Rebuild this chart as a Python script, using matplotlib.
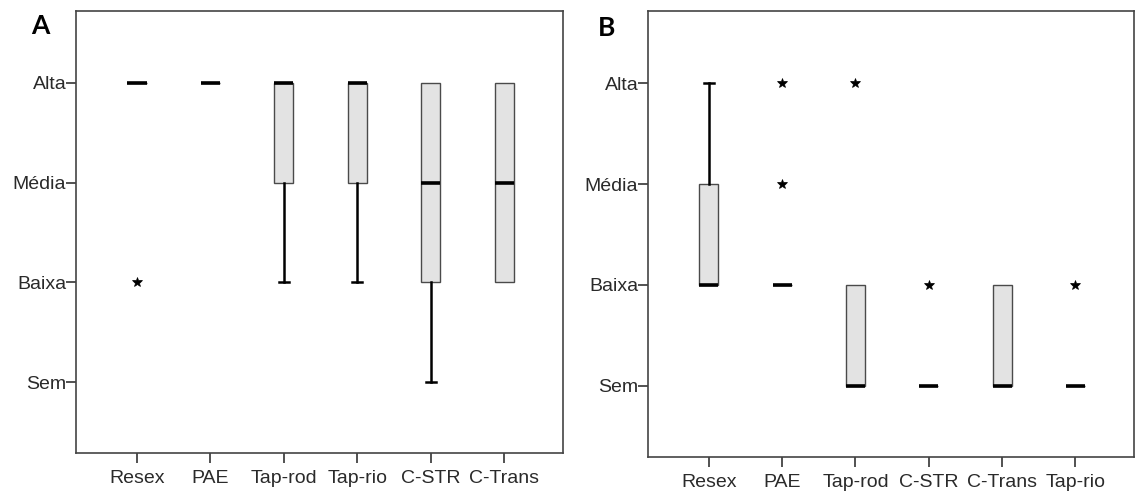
import matplotlib
matplotlib.use("Agg")
import matplotlib.pyplot as plt

plt.rcParams['font.family'] = ['Liberation Sans', 'DejaVu Sans']

# Ordinal scale used on the y axis
levels = ['Sem', 'Baixa', 'Média', 'Alta']
level_values = [1, 2, 3, 4]

# Panel A
a_cats = ['Resex', 'PAE', 'Tap-rod', 'Tap-rio', 'C-STR', 'C-Trans']
a_q1 = [4, 4, 3, 3, 2, 2]
a_med = [4, 4, 4, 4, 3, 3]
a_q3 = [4, 4, 4, 4, 4, 4]
a_whislo = [4, 4, 2, 2, 1, 2]
a_whishi = [4, 4, 4, 4, 4, 4]
a_fliers = [[2], [], [], [], [], []]

# Panel B
b_cats = ['Resex', 'PAE', 'Tap-rod', 'C-STR', 'C-Trans', 'Tap-rio']
b_q1 = [2, 2, 1, 1, 1, 1]
b_med = [2, 2, 1, 1, 1, 1]
b_q3 = [3, 2, 2, 1, 2, 1]
b_whislo = [2, 2, 1, 1, 1, 1]
b_whishi = [4, 2, 2, 1, 2, 1]
b_fliers = [[], [3, 4], [4], [2], [], [2]]

W, H, DPI = 1135, 491, 100
fig = plt.figure(figsize=(W / DPI, H / DPI), dpi=DPI)
fig.patch.set_facecolor('white')


def px_axes(left, top, right, bottom):
    return fig.add_axes([left / W, 1 - bottom / H, (right - left) / W, (bottom - top) / H])


def draw_panel(ax, cats, q1, med, q3, wlo, whi, fliers):
    stats = []
    for c, a, m, b, lo, hi, fl in zip(cats, q1, med, q3, wlo, whi, fliers):
        stats.append(dict(label=c, q1=a, med=m, q3=b, whislo=lo, whishi=hi, fliers=fl))
    pos = list(range(1, len(cats) + 1))
    res = ax.bxp(
        stats, positions=pos, widths=0.26, capwidths=0.14, patch_artist=True,
        boxprops=dict(facecolor='#e3e3e3', edgecolor='#4a4a4a', linewidth=1.0),
        medianprops=dict(color='black', linewidth=2.6, solid_capstyle='butt'),
        whiskerprops=dict(color='black', linewidth=1.8),
        capprops=dict(color='black', linewidth=1.8),
        flierprops=dict(marker='*', markersize=7, markerfacecolor='black',
                        markeredgecolor='black', markeredgewidth=0.5, linestyle='none'),
    )
    # hide whiskers and caps that have zero length
    for i, s in enumerate(stats):
        if s['whislo'] == s['q1']:
            res['caps'][2 * i].set_visible(False)
            res['whiskers'][2 * i].set_visible(False)
        if s['whishi'] == s['q3']:
            res['caps'][2 * i + 1].set_visible(False)
            res['whiskers'][2 * i + 1].set_visible(False)
    ax.set_xlim(1 - 0.83, len(cats) + 0.80)
    ax.set_ylim(0.29, 4.72)
    ax.set_yticks(level_values)
    ax.set_yticklabels(levels)
    ax.set_xticks(pos)
    ax.set_xticklabels(cats)
    ax.tick_params(axis='both', direction='out', length=7, width=1.2, color='#333333',
                   labelsize=14, labelcolor='#2a2a2a')
    ax.tick_params(axis='y', pad=0)
    ax.tick_params(axis='x', pad=5)
    for sp in ax.spines.values():
        sp.set_color('#444444')
        sp.set_linewidth(1.2)


ax_a = px_axes(76, 11, 563, 453)
draw_panel(ax_a, a_cats, a_q1, a_med, a_q3, a_whislo, a_whishi, a_fliers)

ax_b = px_axes(648, 11, 1134, 457)
draw_panel(ax_b, b_cats, b_q1, b_med, b_q3, b_whislo, b_whishi, b_fliers)

fig.text(40 / W, 1 - 26 / H, 'A', fontsize=19, fontweight='bold', family=['Lato', 'DejaVu Sans'],
         ha='center', va='center')
fig.text(607 / W, 1 - 28 / H, 'B', fontsize=19, fontweight='bold', family=['Lato', 'DejaVu Sans'],
         ha='center', va='center')

fig.savefig('out.png', dpi=DPI, facecolor='white')
